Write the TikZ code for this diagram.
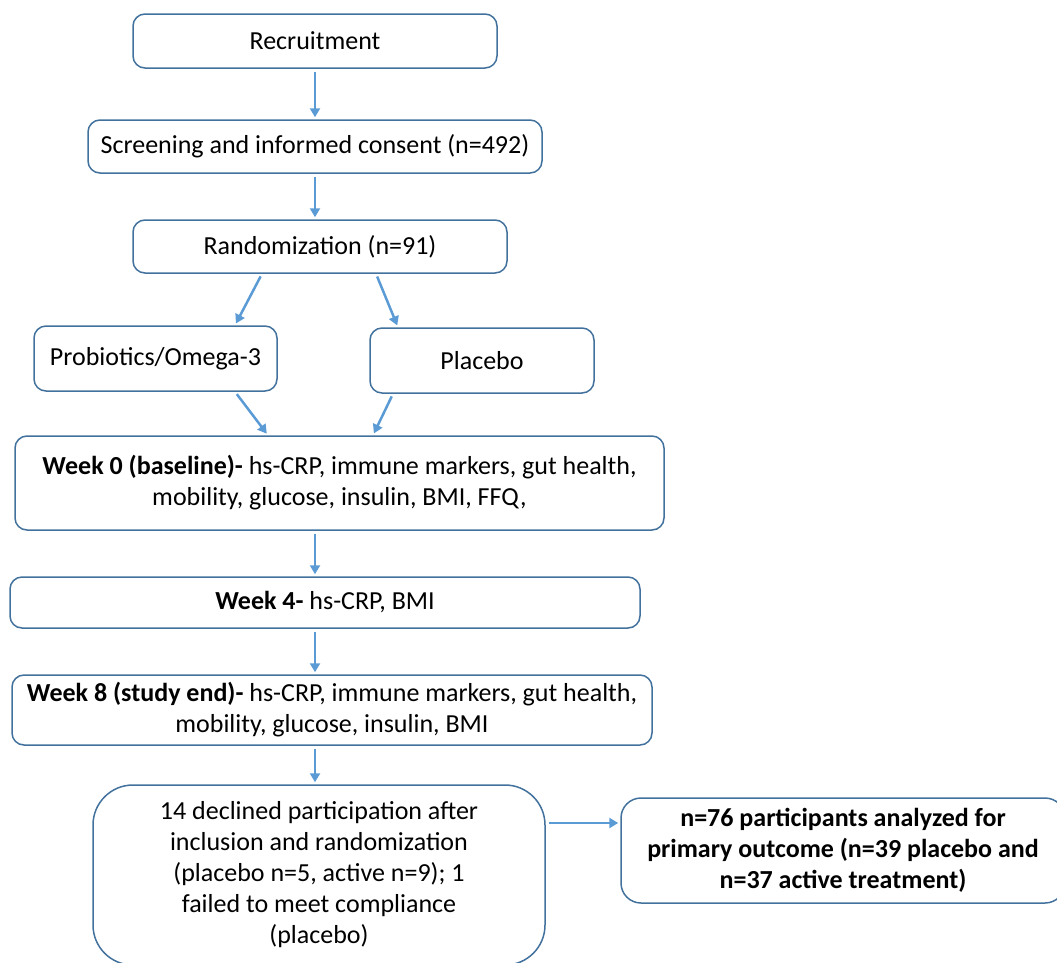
\documentclass[tikz,border=0pt]{standalone}
\usepackage{fontspec}
\setmainfont{Carlito}
\usetikzlibrary{calc,positioning,arrows.meta}
\usepackage{xcolor}
\definecolor{boxline}{HTML}{41719C}
\definecolor{arrline}{HTML}{5B9BD5}

\begin{document}
\begin{tikzpicture}[x=1pt,y=-1pt,
		main/.style = {draw=boxline, line width=1.5pt, rounded corners=12pt, align=center, inner sep=0pt, font=\fontsize{26}{31}\selectfont},
		arr/.style = {->, draw=arrline, line width=2.5pt, >={Triangle[length=9pt,width=10pt]}, shorten <=3pt, shorten >=2pt}]
		\useasboundingbox (0,0) rectangle (1057,962);
		\node[main, minimum width=364pt, minimum height=54pt] (rec) at (315,41) {Recruitment};
		\node[main, minimum width=454pt, minimum height=53pt] (scr) at (315,146.5) {Screening and informed consent (n=492)};
		\node[main, minimum width=374pt, minimum height=53pt] (rand) at (320,246.5) {Randomization (n=91)};
		\node[main, minimum width=243pt, minimum height=65pt] (probio) at (155.5,358.5) {Probiotics/Omega-3};
		\node[main, minimum width=224pt, minimum height=65pt] (plac) at (482,360.5) {Placebo};
		\node[main, minimum width=649pt, minimum height=94pt] (week0) at (339.5,483) {\textbf{Week 0 (baseline)-} hs-CRP, immune markers, gut health,\\ mobility, glucose, insulin, BMI, FFQ,};
		\node[main, minimum width=630pt, minimum height=51pt] (week4) at (325,602.5) {\textbf{Week 4-} hs-CRP, BMI};
		\node[main, minimum width=640pt, minimum height=70pt] (week8) at (332,710) {\textbf{Week 8 (study end)-} hs-CRP, immune markers, gut health,\\ mobility, glucose, insulin, BMI};
		\node[main, rounded corners=40pt, minimum width=452pt, minimum height=180pt] (decl) at (319,875) {14 declined participation after\\ inclusion and randomization\\ (placebo n=5, active n=9); 1\\ failed to meet compliance\\ (placebo)};
		\node[main, rounded corners=20pt, minimum width=444pt, minimum height=105pt, font=\fontsize{26}{31}\selectfont\bfseries] (res) at (843,850.5) {n=76 participants analyzed for\\ primary outcome (n=39 placebo and\\ n=37 active treatment)};
		\coordinate (out) at ([yshift=52pt]decl.east);
		\draw[arr] (rec.south) -- (scr.north);
		\draw[arr] (scr.south) -- (scr.south |- rand.north);
		\draw[arr] ([xshift=-58pt]rand.south) -- ([xshift=79.5pt]probio.north);
		\draw[arr] ([xshift=56pt]rand.south) -- ([xshift=-84pt]plac.north);
		\draw[arr] ([xshift=79.5pt]probio.south) -- ([xshift=-71.5pt]week0.north);
		\draw[arr] ([xshift=-89pt]plac.south) -- ([xshift=33.5pt]week0.north);
		\draw[arr] (week0.south -| rec.south) -- (week4.north -| rec.south);
		\draw[arr] (week4.south -| rec.south) -- (week8.north -| rec.south);
		\draw[arr] (week8.south -| rec.south) -- (decl.north -| rec.south);
		\draw[arr] (out) -- (res.west |- out);
	\end{tikzpicture}
\end{document}
